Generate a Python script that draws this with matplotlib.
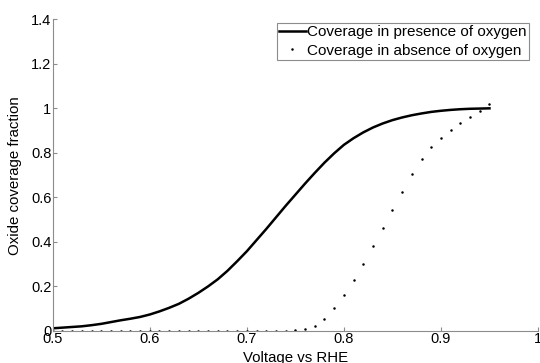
import matplotlib
matplotlib.use('Agg')
import matplotlib.pyplot as plt
from matplotlib.ticker import FuncFormatter

plt.rcParams['font.family'] = ['Liberation Sans', 'DejaVu Sans']

# voltage steps (V vs RHE)
voltage = [0.50, 0.51, 0.52, 0.53, 0.54, 0.55, 0.56, 0.57, 0.58, 0.59,
           0.60, 0.61, 0.62, 0.63, 0.64, 0.65, 0.66, 0.67, 0.68, 0.69,
           0.70, 0.71, 0.72, 0.73, 0.74, 0.75, 0.76, 0.77, 0.78, 0.79,
           0.80, 0.81, 0.82, 0.83, 0.84, 0.85, 0.86, 0.87, 0.88, 0.89,
           0.90, 0.91, 0.92, 0.93, 0.94, 0.95]
# coverage with oxygen (solid line)
cov_o2 = [0.012, 0.015, 0.018, 0.021, 0.026, 0.032, 0.040, 0.048, 0.055, 0.063,
          0.074, 0.088, 0.104, 0.122, 0.145, 0.171, 0.200, 0.232, 0.270, 0.313,
          0.358, 0.408, 0.458, 0.510, 0.562, 0.612, 0.662, 0.710, 0.756, 0.798,
          0.836, 0.866, 0.892, 0.914, 0.932, 0.947, 0.959, 0.969, 0.977, 0.984,
          0.989, 0.993, 0.996, 0.998, 0.999, 1.000]
# coverage without oxygen (dots)
cov_no_o2 = [0, 0, 0, 0, 0, 0, 0, 0, 0, 0,
             0, 0, 0, 0, 0, 0, 0, 0, 0, 0,
             0, 0, 0, 0, 0, 0.003, 0.009, 0.024, 0.055, 0.102,
             0.160, 0.228, 0.302, 0.381, 0.461, 0.545, 0.626, 0.704, 0.773, 0.825,
             0.868, 0.903, 0.934, 0.961, 0.990, 1.018]

fig = plt.figure(figsize=(5.4, 3.63), dpi=100)
ax = fig.add_axes([0.0976, 0.0882, 0.8987, 0.8587])

ax.plot(voltage, cov_o2, color='black', lw=1.8, label='Coverage in presence of oxygen')
ax.plot(voltage, cov_no_o2, ls='none', marker='o', ms=1.8, mec='none', mfc='black',
        label='Coverage in absence of oxygen')

ax.set_xlim(0.5, 1)
ax.set_ylim(0, 1.4)
ax.set_xticks([0.5, 0.6, 0.7, 0.8, 0.9, 1.0])
ax.set_yticks([0, 0.2, 0.4, 0.6, 0.8, 1.0, 1.2, 1.4])
fmt = FuncFormatter(lambda v, p: '%g' % round(v, 2))
ax.xaxis.set_major_formatter(fmt)
ax.yaxis.set_major_formatter(fmt)

for s in ['top', 'right']:
    ax.spines[s].set_visible(False)
for s in ['left', 'bottom']:
    ax.spines[s].set_color('#8c8c8c')
    ax.spines[s].set_linewidth(0.8)
ax.tick_params(direction='in', length=3, width=0.8, color='#8c8c8c',
               labelsize=10.5, pad=1)

ax.set_xlabel('Voltage vs RHE', fontsize=10.8)
ax.set_ylabel('Oxide coverage fraction', fontsize=10.8)
ax.xaxis.set_label_coords(0.5, -0.064)
ax.yaxis.set_label_coords(-0.063, 0.5)

leg = ax.legend(loc='upper right', bbox_to_anchor=(0.9815, 0.989), borderaxespad=0,
                fontsize=11, handlelength=1.75, handletextpad=0.1, borderpad=0.15,
                labelspacing=0.3, numpoints=1, fancybox=False, framealpha=1)
leg.get_frame().set_edgecolor('#8c8c8c')
leg.get_frame().set_linewidth(0.8)

fig.savefig('out.png', dpi=100)
